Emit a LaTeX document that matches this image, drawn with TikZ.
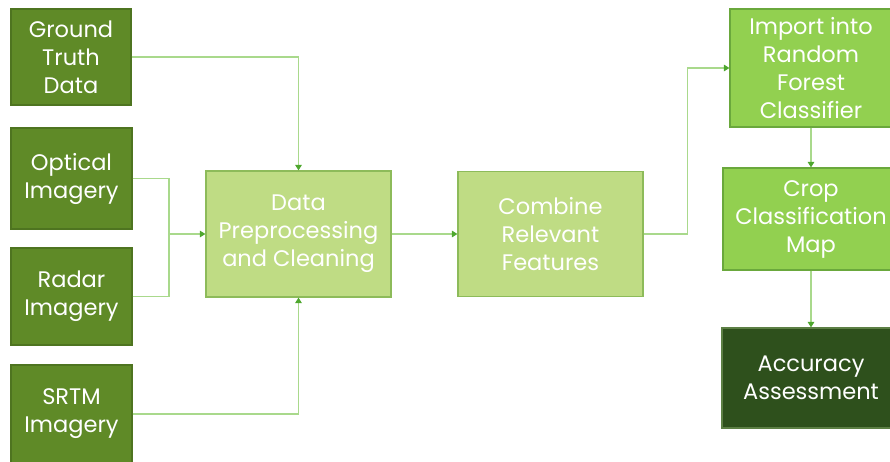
\documentclass[tikz,border=0pt]{standalone}
\usepackage{fontspec}
\setmainfont{Poppins}
\usetikzlibrary{arrows.meta}
\usetikzlibrary{positioning}
\definecolor{olivebox}{HTML}{5F8A27}
\definecolor{oliveline}{HTML}{4E7420}
\definecolor{palebox}{HTML}{BFDC84}
\definecolor{paleline}{HTML}{8DBB5A}
\definecolor{brightbox}{HTML}{92D050}
\definecolor{brightline}{HTML}{6AA83C}
\definecolor{darkbox}{HTML}{2E501C}
\definecolor{darkline}{HTML}{5C7F44}
\definecolor{linkgreen}{HTML}{A9D98C}
\definecolor{tipgreen}{HTML}{4EA72E}
\tikzset{x=1pt, y=-1pt, % pixel-like units, y pointing down
      every node/.style={ % Sets the properties for each box
      align=center,
      text=white,
      font=\fontsize{22.5}{28}\selectfont,
      line width=1.2pt,
      inner sep=0pt},
      source/.style={draw=oliveline, fill=olivebox},
      stage/.style={draw=paleline, fill=palebox},
      model/.style={draw=brightline, fill=brightbox},
      result/.style={draw=darkline, fill=darkbox},
      link/.style={draw=linkgreen, line width=1.3pt},
      flow/.style={link, -{Triangle[length=5.5pt, width=6.5pt, color=tipgreen]}}}

\begin{document}
\begin{tikzpicture}
      \useasboundingbox (0,0) rectangle (890,462);
      % input data
      \node[source, minimum width=120, minimum height=96] (gt) at (71,57) {Ground\\Truth\\Data};
      \node[source, minimum width=121, minimum height=101] (opt) at (71.5,178.5) {Optical\\Imagery};
      \node[source, minimum width=121, minimum height=97] (rad) at (71.5,296.5) {Radar\\Imagery};
      \node[source, minimum width=121, minimum height=98] (srtm) at (71.5,414) {SRTM\\Imagery};
      % processing chain
      \node[stage, minimum width=185, minimum height=126] (prep) at (298.5,234) {Data\\Preprocessing\\and Cleaning};
      \node[stage, minimum width=185, minimum height=125] (comb) at (550.5,234) {Combine\\Relevant\\Features};
      \node[model, minimum width=162, minimum height=118] (rf) at (811,68) {Import into\\Random\\Forest\\Classifier};
      \node[model, minimum width=176, minimum height=102] (crop) at (811,219) {Crop\\Classification\\Map};
      \node[result, minimum width=178, minimum height=100] (acc) at (811,378) {Accuracy\\Assessment};
      \coordinate (join) at (169,234);
      % connectors
      \draw[flow] (gt.east) -| (prep.north);
      \draw[link] (opt.east) -| (join);
      \draw[link] (rad.east) -| (join);
      \draw[flow] (join) -- (prep.west);
      \draw[flow] (srtm.east) -| (prep.south);
      \draw[flow] (prep.east) -- (comb.west);
      \draw[flow] (comb.east) -- ++(44,0) |- (rf.west);
      \draw[flow] (rf.south) -- (crop.north);
      \draw[flow] (crop.south) -- (acc.north);
\end{tikzpicture}
\end{document}
